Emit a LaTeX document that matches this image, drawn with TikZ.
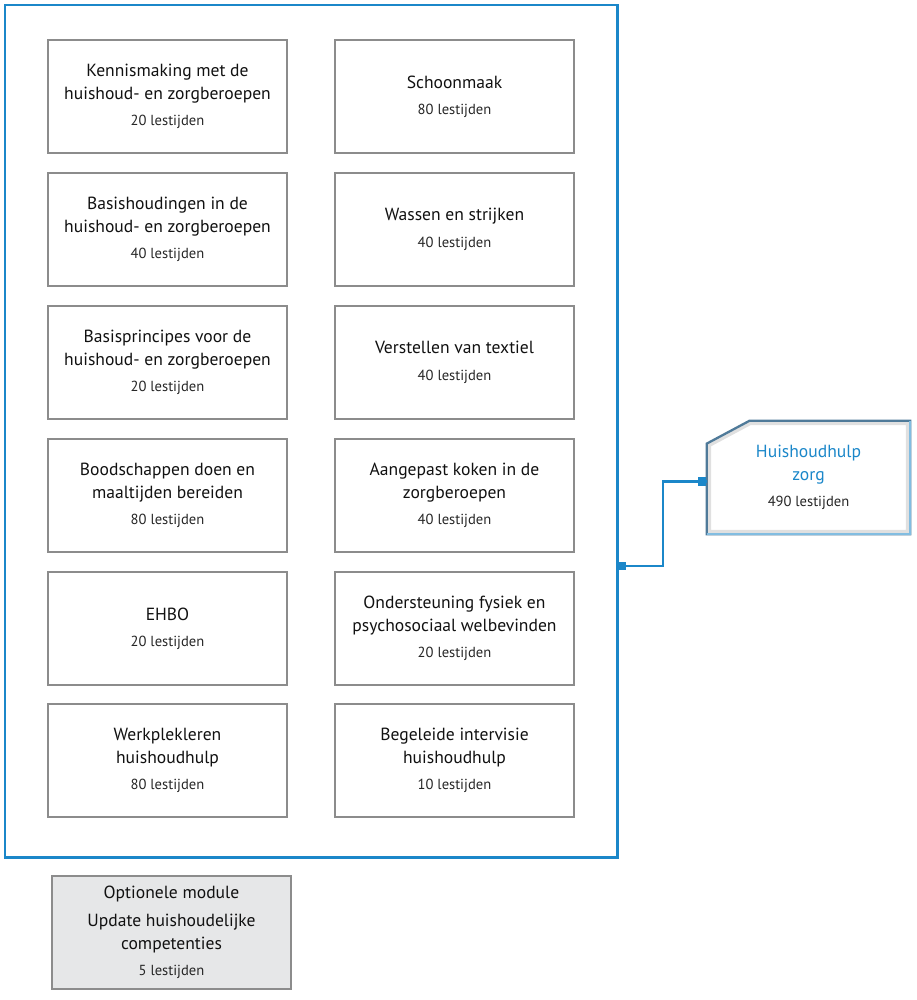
\documentclass[tikz,border=0pt]{standalone}
\usepackage{fontspec}
\setmainfont{PT Sans}
\usetikzlibrary{positioning,calc}
\definecolor{FrameClr}{HTML}{1B87C9}
\definecolor{BoxClr}{HTML}{8C8C8C}
\definecolor{TargetClr}{HTML}{4F7A99}
\definecolor{OptClr}{HTML}{E6E7E8}
\definecolor{TextClr}{HTML}{111111}
\newcommand{\Hours}[1]{\\[2pt]{\fontsize{8.3}{10}\selectfont\color{black!85}#1 lestijden}}
\newcommand{\CutBox}{($(target.north west)+(0,23)$) -- ($(target.north west)+(43,0)$) -- (target.north east)
  -- (target.south east) -- (target.south west) -- cycle}
\tikzset{
  module/.style={draw=BoxClr, line width=0.8pt, minimum width=4.78cm, minimum height=2.26cm,
    align=center, text=TextClr, font=\fontsize{10}{13}\selectfont},
  optmodule/.style={module, fill=OptClr},
  link/.style={draw=FrameClr, line width=1.4pt},
  joint/.style={fill=FrameClr, inner sep=0pt, minimum size=0.17cm}
}

\begin{document}
\begin{tikzpicture}[x=0.02cm,y=-0.02cm]
\useasboundingbox (0,0) rectangle (916,1000);
% outer frame
\draw[FrameClr, line width=1.7pt] (5,5) rectangle (617,857);
% left column
\node[module] (kennis) at (167.5,96.5) {Kennismaking met de\\huishoud- en zorgberoepen\Hours{20}};
\node[module] (basishoud) at (167.5,229.5) {Basishoudingen in de\\huishoud- en zorgberoepen\Hours{40}};
\node[module] (basisprinc) at (167.5,362.5) {Basisprincipes voor de\\huishoud- en zorgberoepen\Hours{20}};
\node[module] (boodsch) at (167.5,495.5) {Boodschappen doen en\\maaltijden bereiden\Hours{80}};
\node[module] (ehbo) at (167.5,628.5) {EHBO\Hours{20}};
\node[module] (werkpl) at (167.5,760.5) {Werkplekleren\\huishoudhulp\Hours{80}};
% right column
\node[module] (schoon) at (454.5,96.5) {Schoonmaak\Hours{80}};
\node[module] (wassen) at (454.5,229.5) {Wassen en strijken\Hours{40}};
\node[module] (verstel) at (454.5,362.5) {Verstellen van textiel\Hours{40}};
\node[module] (koken) at (454.5,495.5) {Aangepast koken in de\\zorgberoepen\Hours{40}};
\node[module] (onderst) at (454.5,628.5) {Ondersteuning fysiek en\\psychosociaal welbevinden\Hours{20}};
\node[module] (interv) at (454.5,760.5) {Begeleide intervisie\\huishoudhulp\Hours{10}};
% optional module
\node[optmodule] (optie) at (171.5,932.5) {Optionele module\\[3pt]Update huishoudelijke\\competenties\Hours{5}};
% target
\node[minimum width=4.06cm, minimum height=2.26cm, align=center, font=\fontsize{10}{13}\selectfont] (target) at (808.5,477.5)
  {\textcolor{FrameClr}{Huishoudhulp}\\\textcolor{FrameClr}{zorg}\Hours{490}};
\begin{scope}
  \clip \CutBox;
  \draw[black!12, line width=5pt] \CutBox;
\end{scope}
\draw[TargetClr, line width=1.3pt, line join=miter] \CutBox;
\draw[FrameClr!55, line width=1.3pt] (target.south west) -- (target.south east) -- (target.north east);
% connector
\coordinate (frameout) at (617,566);
\node[joint, anchor=west] (jfrom) at (frameout) {};
\node[joint, anchor=east] (jto) at ($(target.west)+(0,4)$) {};
\draw[link] (frameout) -- ++(46,0) |- (jto.east);
\end{tikzpicture}
\end{document}
